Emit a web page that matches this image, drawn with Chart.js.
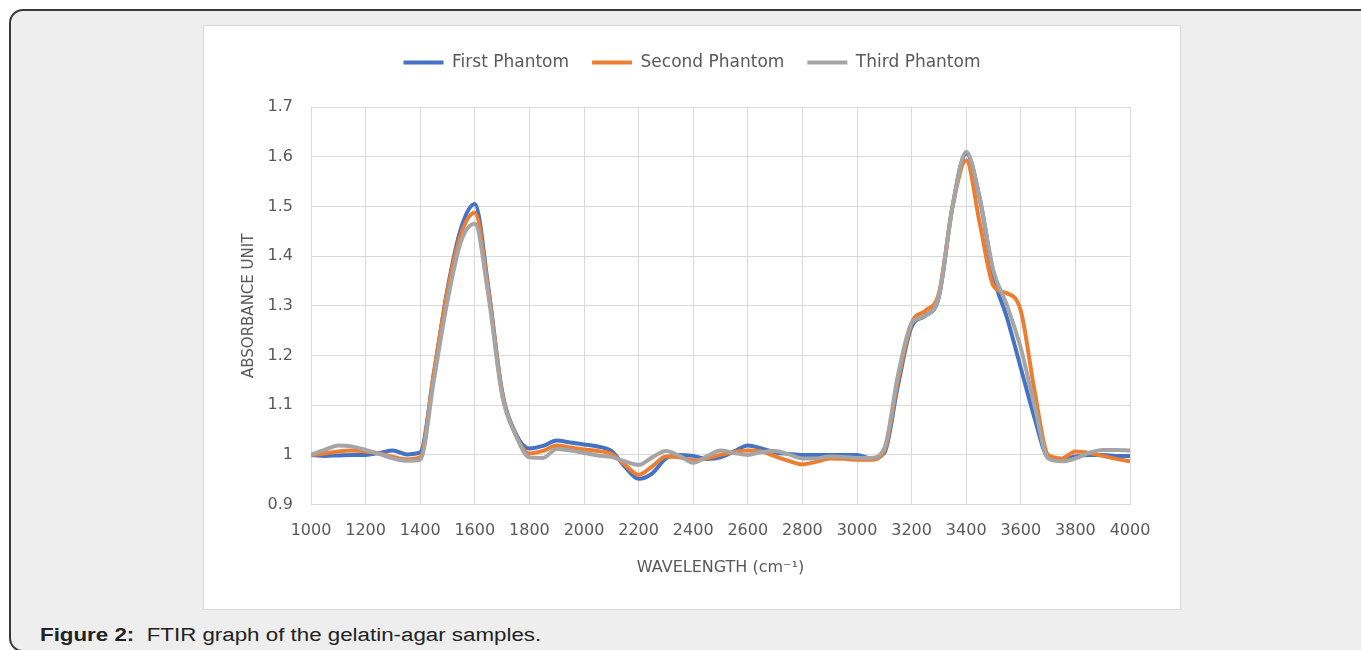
<!DOCTYPE html>
<html>
<head>
<meta charset="utf-8">
<script src="https://cdn.jsdelivr.net/npm/chart.js@4.4.1/dist/chart.umd.min.js"></script>
<style>
  html, body { margin: 0; padding: 0; background: #ffffff; width: 1361px; height: 650px; overflow: hidden; }
  #frame {
    position: absolute; left: 9px; top: 9px; width: 1400px; height: 643px;
    background: #eeeeee; border: 2px solid #3a3a3a; border-radius: 14px; box-sizing: border-box;
  }
  #card {
    position: absolute; left: 203px; top: 25px; width: 978px; height: 585px;
    background: #ffffff; border: 1px solid #d9d9d9; box-sizing: border-box;
  }
  #card canvas { position: absolute; left: 0; top: 0; }
  #caption {
    position: absolute; left: 40px; top: 625px; white-space: nowrap;
    font-family: "Liberation Sans", Arial, sans-serif; font-size: 18px; color: #222222;
    transform: scaleX(1.24); transform-origin: 0 0;
  }
  #caption b { font-weight: bold; }
</style>
</head>
<body>
<div id="frame"></div>
<div id="card"><canvas id="chart" width="976" height="583"></canvas></div>
<div id="caption"><b>Figure 2:</b>&nbsp; FTIR graph of the gelatin-agar samples.</div>
<script>
const wavelengths = [1000,1050,1100,1150,1200,1250,1300,1350,1400,1450,1500,1550,1600,1650,1700,1750,1800,1850,1900,1950,
  2000,2050,2100,2150,2200,2250,2300,2350,2400,2450,2500,2550,2600,2650,2700,2750,2800,2850,2900,2950,
  3000,3050,3100,3150,3200,3250,3300,3350,3400,3450,3500,3550,3600,3650,3700,3750,3800,3850,3900,3950,4000];

const firstPhantom = [1.000,0.998,0.999,1.000,1.000,1.004,1.009,1.001,1.005,1.163,1.334,1.457,1.505,1.335,1.128,1.043,1.013,1.018,1.029,1.025,
  1.021,1.017,1.008,0.976,0.952,0.963,0.993,1.000,0.998,0.992,0.995,1.007,1.019,1.013,1.005,1.002,1.000,1.000,1.000,1.000,
  1.000,0.993,1.004,1.140,1.258,1.280,1.318,1.500,1.607,1.515,1.360,1.275,1.175,1.075,0.995,0.990,0.997,1.000,1.000,0.998,0.998];

const secondPhantom = [1.000,1.003,1.007,1.009,1.007,1.003,0.996,0.991,0.995,1.165,1.330,1.445,1.487,1.330,1.125,1.040,1.003,1.008,1.019,1.015,
  1.011,1.008,1.002,0.980,0.960,0.977,0.997,0.995,0.989,0.993,1.000,1.006,1.009,1.007,0.997,0.988,0.981,0.986,0.993,0.992,
  0.990,0.990,1.008,1.150,1.265,1.290,1.325,1.500,1.593,1.465,1.340,1.325,1.290,1.130,1.000,0.993,1.007,1.004,0.998,0.992,0.987];

const thirdPhantom = [1.000,1.010,1.019,1.017,1.010,1.002,0.993,0.988,0.990,1.150,1.310,1.430,1.465,1.320,1.120,1.040,0.995,0.994,1.012,1.009,
  1.004,0.999,0.996,0.987,0.980,0.995,1.008,0.998,0.984,0.997,1.009,1.004,1.000,1.006,1.008,1.001,0.993,0.993,0.997,0.996,
  0.994,0.994,1.013,1.160,1.265,1.280,1.320,1.500,1.610,1.515,1.370,1.300,1.215,1.100,0.993,0.987,0.993,1.004,1.010,1.010,1.009];

const seriesNames = ['First Phantom', 'Second Phantom', 'Third Phantom'];
const seriesColors = ['#4472C4', '#ED7D31', '#A5A5A5'];
const xTickValues = [1000,1200,1400,1600,1800,2000,2200,2400,2600,2800,3000,3200,3400,3600,3800,4000];
const yTickValues = [0.9,1.0,1.1,1.2,1.3,1.4,1.5,1.6,1.7];

const allSeries = [firstPhantom, secondPhantom, thirdPhantom];
const datasets = allSeries.map((vals, i) => ({
  label: seriesNames[i],
  data: wavelengths.map((w, j) => ({ x: w, y: vals[j] })),
  borderColor: seriesColors[i],
  backgroundColor: seriesColors[i],
  borderWidth: 4,
  pointRadius: 0,
  fill: false,
  cubicInterpolationMode: 'monotone',
  borderCapStyle: 'round',
  borderJoinStyle: 'round',
  order: 3 - i
}));

const legendMargin = {
  id: 'legendMargin',
  beforeInit(chart) {
    const origFit = chart.legend.fit;
    chart.legend.fit = function () {
      origFit.bind(chart.legend)();
      this.height += 26;
    };
  }
};

const textColor = '#595959';
const fontFamily = '"DejaVu Sans", sans-serif';
Chart.defaults.font.family = fontFamily;
Chart.defaults.color = textColor;

new Chart(document.getElementById('chart'), {
  type: 'line',
  data: { datasets },
  plugins: [legendMargin],
  options: {
    responsive: false,
    animation: false,
    events: [],
    layout: { padding: { top: 5, right: 0, bottom: 0, left: 0 } },
    plugins: {
      tooltip: { enabled: false },
      legend: {
        position: 'top',
        labels: {
          usePointStyle: true,
          pointStyle: 'line',
          pointStyleWidth: 40,
          boxHeight: 4,
          padding: 23,
          font: { size: 17 },
          color: textColor,
          sort: (a, b) => a.datasetIndex - b.datasetIndex
        }
      }
    },
    scales: {
      x: {
        type: 'linear',
        min: 1000,
        max: 4000,
        afterBuildTicks: (scale) => { scale.ticks = xTickValues.map(v => ({ value: v })); },
        ticks: { padding: 17, font: { size: 16 }, color: textColor, maxRotation: 0, autoSkip: false,
                 callback: (v) => String(v) },
        grid: { color: '#d9d9d9', lineWidth: 1, drawTicks: false },
        border: { color: '#d9d9d9', width: 1 },
        title: {
          display: true,
          text: 'WAVELENGTH (cm⁻¹)',
          font: { size: 16 },
          color: textColor,
          padding: { top: 0, bottom: 32 }
        }
      },
      y: {
        type: 'linear',
        min: 0.9,
        max: 1.7,
        afterBuildTicks: (scale) => { scale.ticks = yTickValues.map(v => ({ value: v })); },
        afterFit: (scale) => { scale.width = 107; },
        ticks: {
          padding: 18,
          font: { size: 16 },
          color: textColor,
          callback: (v) => String(Number(v.toFixed(1)))
        },
        grid: { color: '#d9d9d9', lineWidth: 1, drawTicks: false },
        border: { color: '#d9d9d9', width: 1 },
        title: {
          display: true,
          text: 'ABSORBANCE UNIT',
          font: { size: 15 },
          color: textColor,
          padding: { top: 36, bottom: 0 }
        }
      },
      yRightSpace: {
        type: 'linear',
        position: 'right',
        display: true,
        min: 0, max: 1,
        afterFit: (scale) => { scale.width = 50; },
        ticks: { display: false },
        grid: { display: false, drawTicks: false },
        border: { display: false },
        title: { display: false }
      }
    }
  }
});
</script>
</body>
</html>
